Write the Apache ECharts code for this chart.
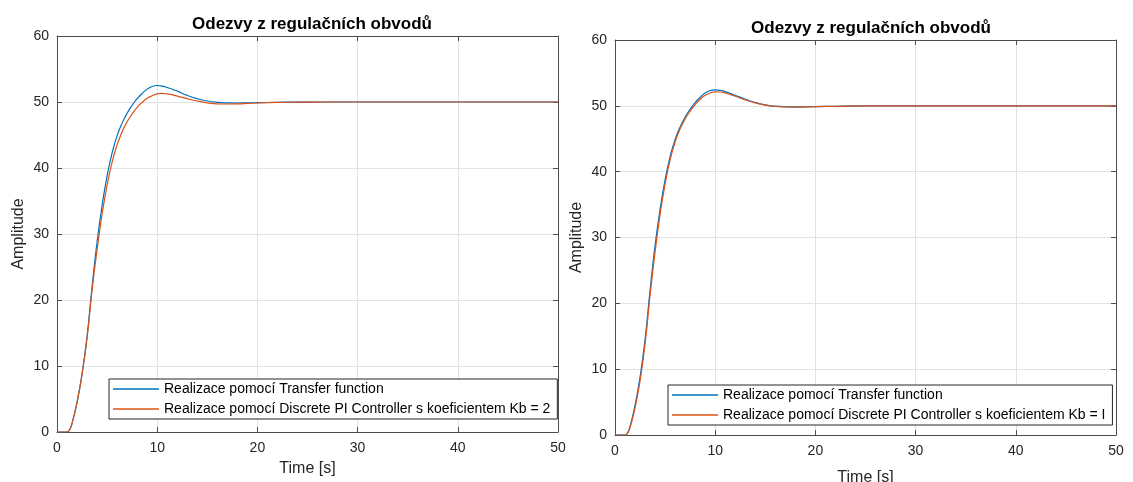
<!DOCTYPE html>
<html>
<head>
<meta charset="utf-8">
<script src="https://cdn.jsdelivr.net/npm/echarts@6/dist/echarts.min.js"></script>
<style>
  html, body { margin: 0; padding: 0; background: #ffffff; }
  #chart { width: 1133px; height: 482px; }
</style>
</head>
<body>
<div id="chart"></div>
<script>
// ---- data ----
const chartTitle = 'Odezvy z regulačních obvodů';
const xAxisName = 'Time [s]';
const yAxisName = 'Amplitude';
const nameTF = 'Realizace pomocí Transfer function';
const nameKb2 = 'Realizace pomocí Discrete PI Controller s koeficientem Kb = 2';
const nameKb1 = 'Realizace pomocí Discrete PI Controller s koeficientem Kb = I';

const timeS = [0, 0.5, 1, 1.25, 1.5, 2, 2.5, 3, 3.5, 4, 4.5, 5, 5.5, 6, 6.5, 7, 7.5, 8, 8.5, 9, 9.5, 10, 10.5, 11, 12, 13, 14, 15, 16, 17, 18, 19, 20, 22, 24, 26, 28, 30, 35, 40, 45, 50];

// left chart
const tfLeft = [0, 0, 0, 0.3, 1.3, 4.5, 8.8, 14.5, 22.0, 28.8, 34.3, 38.8, 42.3, 44.9, 46.8, 48.3, 49.5, 50.5, 51.3, 51.95, 52.35, 52.5, 52.4, 52.2, 51.65, 51.0, 50.5, 50.15, 49.95, 49.87, 49.85, 49.87, 49.9, 49.95, 49.98, 50, 50, 50, 50, 50, 50, 50];
const kb2Left = [0, 0, 0, 0.3, 1.3, 4.5, 8.7, 14.2, 21.5, 27.6, 33.0, 37.4, 40.9, 43.5, 45.5, 47.0, 48.2, 49.2, 49.95, 50.55, 50.95, 51.22, 51.3, 51.22, 50.9, 50.5, 50.15, 49.88, 49.73, 49.7, 49.72, 49.78, 49.85, 49.93, 49.97, 49.99, 50, 50, 50, 50, 50, 50];

// right chart
const tfRight = [0, 0, 0, 0.3, 1.3, 4.5, 8.8, 14.5, 22.0, 28.8, 34.3, 38.8, 42.3, 44.9, 46.8, 48.3, 49.5, 50.5, 51.3, 51.95, 52.3, 52.42, 52.35, 52.15, 51.6, 51.0, 50.5, 50.15, 49.95, 49.86, 49.83, 49.85, 49.88, 49.94, 49.98, 50, 50, 50, 50, 50, 50, 50];
const kb1Right = [0, 0, 0, 0.25, 1.1, 4.1, 8.2, 13.8, 21.2, 27.8, 33.5, 38.1, 41.8, 44.5, 46.5, 48.0, 49.2, 50.2, 51.0, 51.6, 51.95, 52.12, 52.1, 51.95, 51.45, 50.9, 50.45, 50.1, 49.9, 49.82, 49.8, 49.83, 49.87, 49.93, 49.97, 49.99, 50, 50, 50, 50, 50, 50];

const xTicks = { min: 0, max: 50, interval: 10 };
const yTicks = { min: 0, max: 60, interval: 10 };

// ---- styling ----
const FONT = 'Liberation Sans, Arial, Helvetica, sans-serif';
const AX = '#262626';
const FRAME = '#4d4d4d';
const GRIDC = '#e2e2e2';
const BLUE = '#0072BD';
const ORANGE = '#D95319';

function pairs(xs, ys) { return xs.map((x, i) => [x, ys[i]]); }

function mainX(gridIndex, gap) {
  return {
    type: 'value', gridIndex, position: 'bottom',
    min: xTicks.min, max: xTicks.max, interval: xTicks.interval,
    name: xAxisName, nameLocation: 'middle', nameGap: gap,
    nameTextStyle: { fontFamily: FONT, fontSize: 16, color: AX },
    axisLine: { show: true, onZero: false, lineStyle: { color: FRAME, width: 1 } },
    axisTick: { show: true, inside: true, length: 5, lineStyle: { color: FRAME } },
    axisLabel: { fontFamily: FONT, fontSize: 14, color: AX, margin: 9 },
    splitLine: { show: true, lineStyle: { color: GRIDC, width: 1 } }
  };
}
function sideX(gridIndex) {
  return {
    type: 'value', gridIndex, position: 'top',
    min: xTicks.min, max: xTicks.max, interval: xTicks.interval,
    axisLine: { show: true, onZero: false, lineStyle: { color: FRAME, width: 1 } },
    axisTick: { show: true, inside: true, length: 5, lineStyle: { color: FRAME } },
    axisLabel: { show: false }, splitLine: { show: false }
  };
}
function mainY(gridIndex) {
  return {
    type: 'value', gridIndex, position: 'left',
    min: yTicks.min, max: yTicks.max, interval: yTicks.interval,
    name: yAxisName, nameLocation: 'middle', nameGap: 30,
    nameTextStyle: { fontFamily: FONT, fontSize: 16, color: AX },
    axisLine: { show: true, onZero: false, lineStyle: { color: FRAME, width: 1 } },
    axisTick: { show: true, inside: true, length: 5, lineStyle: { color: FRAME } },
    axisLabel: { fontFamily: FONT, fontSize: 14, color: AX, margin: 8 },
    splitLine: { show: true, lineStyle: { color: GRIDC, width: 1 } }
  };
}
function sideY(gridIndex) {
  return {
    type: 'value', gridIndex, position: 'right',
    min: yTicks.min, max: yTicks.max, interval: yTicks.interval,
    axisLine: { show: true, onZero: false, lineStyle: { color: FRAME, width: 1 } },
    axisTick: { show: true, inside: true, length: 5, lineStyle: { color: FRAME } },
    axisLabel: { show: false }, splitLine: { show: false }
  };
}
function lineSeries(name, xi, yi, data, color) {
  return {
    type: 'line', name, xAxisIndex: xi, yAxisIndex: yi,
    data, showSymbol: false, smooth: true, animation: false,
    lineStyle: { color, width: 1.2 }, itemStyle: { color },
    emphasis: { disabled: true }
  };
}
function legendAt(left, top, names) {
  return {
    left, top, orient: 'vertical', data: names,
    icon: 'rect', itemWidth: 46, itemHeight: 1.5, itemGap: 6,
    padding: [3, 7, 3, 4],
    backgroundColor: '#ffffff', borderColor: AX, borderWidth: 1, borderRadius: 0,
    selectedMode: false,
    textStyle: { fontFamily: FONT, fontSize: 14, color: '#000', lineHeight: 14 }
  };
}

const chart = echarts.init(document.getElementById('chart'), null, { renderer: 'canvas' });
chart.setOption({
  animation: false,
  backgroundColor: '#ffffff',
  title: [
    { text: chartTitle, left: 307, top: 11, textAlign: 'center',
      textStyle: { fontFamily: FONT, fontSize: 17, fontWeight: 'bold', color: '#000' } },
    { text: chartTitle, left: 866, top: 15, textAlign: 'center',
      textStyle: { fontFamily: FONT, fontSize: 17, fontWeight: 'bold', color: '#000' } }
  ],
  grid: [
    { left: 57, top: 36, width: 501, height: 396, show: false, containLabel: false, outerBoundsMode: 'none' },
    { left: 615, top: 40, width: 501, height: 395, show: false, containLabel: false, outerBoundsMode: 'none' }
  ],
  xAxis: [mainX(0, 29), sideX(0), mainX(1, 35), sideX(1)],
  yAxis: [mainY(0), sideY(0), mainY(1), sideY(1)],
  legend: [
    legendAt(109, 379, [nameTF, nameKb2]),
    legendAt(668, 385, [nameTF, nameKb1])
  ],
  series: [
    lineSeries(nameTF, 0, 0, pairs(timeS, tfLeft), BLUE),
    lineSeries(nameKb2, 0, 0, pairs(timeS, kb2Left), ORANGE),
    lineSeries(nameTF, 2, 2, pairs(timeS, tfRight), BLUE),
    lineSeries(nameKb1, 2, 2, pairs(timeS, kb1Right), ORANGE)
  ]
});
</script>
</body>
</html>
